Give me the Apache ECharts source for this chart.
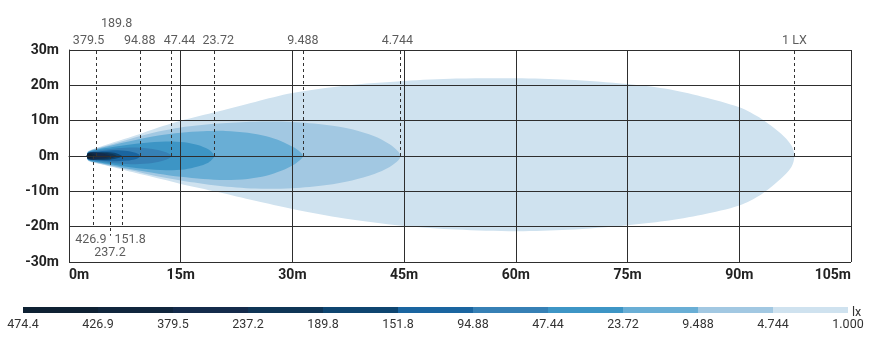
<!DOCTYPE html>
<html><head><meta charset="utf-8">
<script src="https://cdn.jsdelivr.net/npm/echarts@6/dist/echarts.min.js"></script>
<style>html,body{margin:0;padding:0;background:#fff}#c{width:885px;height:347px}</style>
</head><body><div id="c"></div>
<script>
// ---- axis ticks ----
const xTicks = [0, 15, 30, 45, 60, 75, 90, 105];
const xTickLabels = ['0m', '15m', '30m', '45m', '60m', '75m', '90m', '105m'];
const yTicks = [-30, -20, -10, 0, 10, 20, 30];
const yTickLabels = ['-30m', '-20m', '-10m', '0m', '10m', '20m', '30m'];

// ---- isolux contours: [distance m, upper edge m, lower edge m] ----
const iso1_000 = [[2.4,0,0],[2.6,1.4,-1.4],[4,2.5,-2.2],[6,3.9,-3.2],[8,5.2,-4.3],[10,6.6,-5.3],[12.5,8.4,-6.6],[15,10,-7.9],[20,12.6,-10.2],[25,15.3,-12.7],[30,17.8,-15],[37,19.9,-17.7],[45,21.2,-19.8],[52,21.9,-20.8],[60,22,-21.3],[67,21.6,-20.9],[75,20.4,-19.6],[80,19.1,-18.4],[85,16.8,-16.6],[90,13.8,-14],[93,10.5,-10.8],[95.5,6.5,-6.6],[97,3,-3.1],[97.4,0,0]];
const iso4_744 = [[2.4,0,0],[2.6,1.3,-1.3],[4,2.3,-2.1],[8,4.7,-3.9],[12,6.9,-5.8],[15,8.1,-6.9],[20,9.2,-8.4],[25,9.7,-9.2],[30,9.6,-9.1],[34.6,8.8,-8.2],[38,7.6,-6.9],[41,5.6,-5.1],[43,3.4,-3.2],[44.2,1.3,-1.3],[44.5,0,0]];
const iso9_488 = [[2.4,0,0],[2.6,1.2,-1.2],[4,2.1,-1.9],[8,4.1,-3.6],[12,5.8,-5],[15,6.6,-5.9],[18,7,-6.5],[21,7.1,-6.8],[24,6.6,-6.5],[26.5,5.6,-5.6],[28.5,4.2,-4.2],[30.3,2.3,-2.3],[31.2,0.8,-0.8],[31.4,0,0]];
const iso23_72 = [[2.4,0,0],[2.6,1.1,-1.1],[4,1.9,-1.8],[7,2.9,-2.8],[10,3.7,-3.6],[13,4.1,-4],[15.5,3.9,-3.8],[17.3,3.1,-3],[18.7,1.9,-1.9],[19.3,0.8,-0.8],[19.5,0,0]];
const iso47_44 = [[2.4,0,0],[2.6,1,-1],[4,1.6,-1.5],[6.5,2.2,-2.1],[9,2.4,-2.3],[11.2,2,-2],[12.7,1.3,-1.3],[13.5,0.6,-0.6],[13.7,0,0]];
const iso94_88 = [[2.4,0,0],[2.6,0.95,-0.95],[4,1.3,-1.3],[6,1.6,-1.5],[7.8,1.4,-1.3],[8.9,0.9,-0.9],[9.4,0.4,-0.4],[9.5,0,0]];
const iso151_8 = [[2.4,0,0],[2.6,0.9,-0.9],[4,1.1,-1.1],[5.5,1.05,-1.05],[6.6,0.6,-0.6],[7.1,0,0]];
const iso189_8 = [[2.4,0,0],[2.6,0.85,-0.85],[4,0.95,-0.95],[5.3,0.8,-0.8],[6,0.45,-0.45],[6.4,0,0]];
const iso237_2 = [[2.4,0,0],[2.6,0.8,-0.8],[3.8,0.85,-0.85],[4.8,0.6,-0.6],[5.5,0,0]];
const iso379_5 = [[2.4,0,0],[2.6,0.7,-0.7],[3.2,0.65,-0.65],[3.7,0,0]];
const iso426_9 = [[2.4,0,0],[2.55,0.6,-0.6],[2.9,0.5,-0.5],[3.2,0,0]];

// ---- annotation lines ----
const topLabels = ['379.5', '189.8', '94.88', '47.44', '23.72', '9.488', '4.744', '1 LX'];
const topX = [3.7, 6.4, 9.5, 13.7, 19.5, 31.4, 44.5, 97.4];
const topEnd = [30, 34.6, 30, 30, 30, 30, 30, 30];
const bottomLabels = ['426.9', '237.2', '151.8'];
const bottomX = [3.2, 5.5, 7.1];
const bottomEnd = [-20, -22.6, -20];

// ---- colour scale ----
const scaleLabels = ['474.4', '426.9', '379.5', '237.2', '189.8', '151.8', '94.88', '47.44', '23.72', '9.488', '4.744', '1.000'];
const scaleSteps = ['474.4-426.9', '426.9-379.5', '379.5-237.2', '237.2-189.8', '189.8-151.8', '151.8-94.88', '94.88-47.44', '47.44-23.72', '23.72-9.488', '9.488-4.744', '4.744-1.000'];

// styles
const palette = ['#0e2133', '#10263d', '#142b4b', '#0f3556', '#0e4570', '#1a65a0', '#3680b5', '#3d95c5', '#69aed5', '#a2c8e2', '#cfe2ef'];
const topOffsets = [[-8,0],[0,0],[0,0],[8.5,0],[4,0],[0,0],[-3,0],[0,0]];
const bottomOffsets = [[-2,2],[0,6],[8.3,2]];
const FONT = 'Roboto, "DejaVu Sans", sans-serif';

const contours = [iso1_000, iso4_744, iso9_488, iso23_72, iso47_44, iso94_88, iso151_8, iso189_8, iso237_2, iso379_5, iso426_9];
const contourColor = [10, 9, 8, 7, 6, 5, 4, 3, 2, 1, 0].map(i => palette[i]);

const series = [];
contours.forEach((c, k) => {
  series.push({
    type: 'custom', coordinateSystem: 'cartesian2d', xAxisIndex: 0, yAxisIndex: 0,
    data: c, encode: { x: 0, y: [1, 2] }, silent: true, z: 2, clip: true,
    renderItem: function (params, api) {
      if (params.dataIndexInside !== 0) return null;
      const n = params.dataInsideLength;
      const pts = [];
      for (let i = 0; i < n; i++) pts.push(api.coord([api.value(0, i), api.value(1, i)]));
      for (let i = n - 2; i >= 1; i--) pts.push(api.coord([api.value(0, i), api.value(2, i)]));
      return { type: 'polygon', shape: { points: pts, smooth: 0.3 },
               style: { fill: contourColor[k], stroke: null } };
    }
  });
});

const dash = { color: '#333', width: 1, type: [3, 3] };
series.push({
  type: 'scatter', xAxisIndex: 0, yAxisIndex: 0, clip: false, silent: true, z: 6,
  symbolSize: 0,
  data: topLabels.map((t, i) => ({ name: t, value: [topX[i], topEnd[i]], label: { offset: topOffsets[i] } })),
  label: { show: true, position: 'top', distance: 3, formatter: '{b}', fontFamily: FONT, fontSize: 12.5, color: '#333' },
  markLine: {
    silent: true, symbol: ['none', 'none'], animation: false, z: 6,
    lineStyle: dash, label: { show: false },
    data: topX.map((x, i) => [{ coord: [x, 0] }, { coord: [x, topEnd[i]] }])
  }
});
series.push({
  type: 'scatter', xAxisIndex: 0, yAxisIndex: 0, clip: false, silent: true, z: 6,
  symbolSize: 0,
  data: bottomLabels.map((t, i) => ({ name: t, value: [bottomX[i], bottomEnd[i]], label: { offset: bottomOffsets[i] } })),
  label: { show: true, position: 'bottom', distance: 5, formatter: '{b}', fontFamily: FONT, fontSize: 12.5, color: '#333' },
  markLine: {
    silent: true, symbol: ['none', 'none'], animation: false, z: 6,
    lineStyle: dash, label: { show: false },
    data: bottomX.map((x, i) => [{ coord: [x, 0] }, { coord: [x, bottomEnd[i]] }])
  }
});
// colour scale bar
series.push({
  type: 'bar', xAxisIndex: 1, yAxisIndex: 1, silent: true,
  barWidth: '100%', barCategoryGap: '0%',
  data: scaleSteps.map((s, i) => ({ value: 1, itemStyle: { color: palette[i] } }))
});

const gridLine = { color: '#2e2e2e', width: 1 };
const option = {
  animation: false,
  backgroundColor: '#fff',
  grid: [
    { left: 69, right: 34, top: 50, bottom: 85, containLabel: false, outerBoundsMode: 'none' },
    { left: 23, right: 37, top: 307, height: 6, containLabel: false, outerBoundsMode: 'none' }
  ],
  xAxis: [
    { type: 'value', gridIndex: 0, min: 0, max: 105, interval: 15, z: 4,
      axisLine: { show: true, lineStyle: gridLine }, axisTick: { show: false },
      splitLine: { show: true, lineStyle: gridLine },
      axisLabel: { margin: 6, fontFamily: FONT, fontSize: 14, fontWeight: 'bold', color: '#222',
        alignMinLabel: 'left', alignMaxLabel: 'right',
        formatter: v => xTickLabels[xTicks.indexOf(v)] } },
    { type: 'category', gridIndex: 1, data: scaleSteps, show: false, boundaryGap: true },
    { type: 'value', gridIndex: 1, min: 0, max: 11, interval: 1, position: 'bottom',
      axisLine: { show: false }, axisTick: { show: false }, splitLine: { show: false },
      name: 'lx', nameLocation: 'end', nameGap: 4, nameMoveOverlap: false,
      nameTextStyle: { fontFamily: FONT, fontSize: 12.5, color: '#333', padding: [0, 0, 6, 0] },
      axisLabel: { margin: 5, fontFamily: FONT, fontSize: 12.5, color: '#333',
        formatter: v => scaleLabels[v] } }
  ],
  yAxis: [
    { type: 'value', gridIndex: 0, min: -30, max: 30, interval: 10, z: 4,
      axisLine: { show: true, lineStyle: gridLine }, axisTick: { show: false },
      splitLine: { show: true, lineStyle: gridLine },
      axisLabel: { margin: 10, fontFamily: FONT, fontSize: 14, fontWeight: 'bold', color: '#222',
        formatter: v => yTickLabels[yTicks.indexOf(v)] } },
    { type: 'value', gridIndex: 1, min: 0, max: 1, show: false }
  ],
  series: series
};
const chart = echarts.init(document.getElementById('c'), null, { renderer: 'canvas' });
chart.setOption(option);
</script>
</body></html>
